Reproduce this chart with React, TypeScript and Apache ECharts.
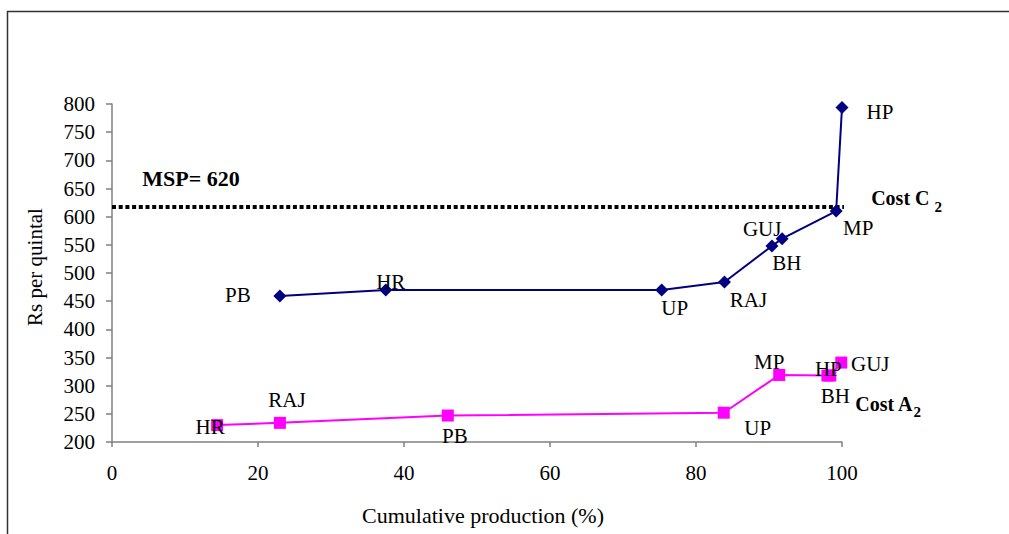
import React, { useEffect, useRef } from "react";
import * as echarts from "echarts";

// ---- Data ----
const c2States = ["PB", "HR", "UP", "RAJ", "BH", "GUJ", "MP", "HP"];
const c2X = [23.0, 37.5, 75.3, 83.9, 90.4, 91.8, 99.2, 100];
const c2Y = [459, 470, 470, 484, 548, 561, 610, 794];

const a2States = ["HR", "RAJ", "PB", "UP", "MP", "BH", "HP", "GUJ"];
const a2X = [14.4, 23.0, 46.0, 83.8, 91.4, 98.0, 98.4, 99.9];
const a2Y = [230, 234, 247, 252, 319, 318, 318, 341];

const mspValue = 617;
const mspX = [0, 102.9];

const xMin = 0;
const xMax = 100;
const xStep = 20;
const yMin = 200;
const yMax = 800;
const yStep = 50;

// ---- Label placement (style, kept apart from the data) ----
const c2LabelOffset: Record<string, number[]> = {
  PB: [-42, -1],
  HR: [5, -8],
  UP: [13, 18],
  RAJ: [24, 18],
  BH: [15, 17],
  GUJ: [-20, -10],
  MP: [22, 17],
  HP: [38, 5],
};
const a2LabelOffset: Record<string, number[]> = {
  HR: [-7, 2],
  RAJ: [7, -23],
  PB: [7, 20],
  UP: [34, 15],
  MP: [-10, -13],
  BH: [8, 20],
  HP: [-2, -7],
  GUJ: [29, 1],
};

const FONT = "'Liberation Serif', 'Times New Roman', serif";

export default function App() {
  const ref = useRef<HTMLDivElement>(null);

  useEffect(() => {
    if (!ref.current) return;
    const chart = echarts.init(ref.current, undefined, { renderer: "svg" });

    const pointLabel = (offset: number[]) => ({
      show: true,
      position: "inside",
      offset,
      color: "#000",
      fontFamily: FONT,
      fontSize: 21,
      formatter: "{b}",
    });

    const c2Data = c2States.map((s, i) => ({
      name: s,
      value: [c2X[i], c2Y[i]],
      label: pointLabel(c2LabelOffset[s]),
    }));
    const a2Data = a2States.map((s, i) => ({
      name: s,
      value: [a2X[i], a2Y[i]],
      label: pointLabel(a2LabelOffset[s]),
    }));

    const costRich = (subPadLeft: number) => ({
      a: {
        fontFamily: FONT,
        fontSize: 20,
        fontWeight: "bold",
        lineHeight: 22,
        verticalAlign: "top",
        color: "#000",
      },
      b: {
        fontFamily: FONT,
        fontSize: 15,
        fontWeight: "bold",
        lineHeight: 15,
        verticalAlign: "top",
        padding: [11, 0, 0, subPadLeft],
        color: "#000",
      },
    });

    const mspData = mspX.map((x, i) => ({
      name: i === 0 ? "MSP" : "Cost C2",
      value: [x, mspValue],
      label:
        i === 0
          ? {
              show: true,
              position: "inside",
              offset: [79, -29],
              formatter: "MSP= 620",
              fontFamily: FONT,
              fontSize: 22,
              fontWeight: "bold",
              color: "#000",
            }
          : {
              show: true,
              position: "inside",
              align: "left",
              offset: [8, -8],
              formatter: "{a|Cost C}{b|2}",
              rich: costRich(5),
            },
    }));

    chart.setOption({
      animation: false,
      backgroundColor: "#fff",
      graphic: [
        {
          type: "rect",
          shape: { x: 7.5, y: 11.5, width: 1100, height: 600 },
          style: { fill: "none", stroke: "#333", lineWidth: 1.5 },
          silent: true,
        },
      ],
      grid: { left: 112, right: 167, top: 104, bottom: 92 },
      xAxis: {
        type: "value",
        min: xMin,
        max: xMax,
        interval: xStep,
        name: "Cumulative production (%)",
        nameLocation: "middle",
        nameGap: 62,
        nameTextStyle: {
          fontFamily: FONT,
          fontSize: 22,
          color: "#000",
          padding: [0, 0, 0, 12],
        },
        splitLine: { show: false },
        axisLine: { show: true, lineStyle: { color: "#808080", width: 1.5 } },
        axisTick: { show: true, length: 5, lineStyle: { color: "#808080", width: 1.5 } },
        axisLabel: { margin: 20, fontFamily: FONT, fontSize: 21, color: "#000" },
      },
      yAxis: {
        type: "value",
        min: yMin,
        max: yMax,
        interval: yStep,
        name: "Rs per quintal",
        nameLocation: "middle",
        nameGap: 67,
        nameTextStyle: {
          fontFamily: FONT,
          fontSize: 21,
          color: "#000",
          padding: [0, 0, 0, 12],
        },
        splitLine: { show: false },
        axisLine: { show: true, lineStyle: { color: "#808080", width: 1.5 } },
        axisTick: { show: true, length: 6, lineStyle: { color: "#808080", width: 1.5 } },
        axisLabel: { margin: 17, fontFamily: FONT, fontSize: 21, color: "#000" },
      },
      series: [
        {
          name: "MSP",
          type: "line",
          data: mspData,
          clip: false,
          symbol: "circle",
          symbolSize: 0,
          showSymbol: true,
          lineStyle: { color: "#000", width: 4, type: [4, 2.7], cap: "butt" },
          itemStyle: { color: "#000" },
          z: 1,
        },
        {
          name: "Cost C2",
          type: "line",
          data: c2Data,
          symbol: "diamond",
          symbolSize: 13,
          lineStyle: { color: "#000080", width: 2 },
          itemStyle: { color: "#000080" },
          z: 3,
        },
        {
          name: "Cost A2",
          type: "line",
          data: a2Data,
          symbol: "rect",
          symbolSize: 12,
          lineStyle: { color: "#ff00ff", width: 2 },
          itemStyle: { color: "#ff00ff" },
          z: 3,
          markPoint: {
            symbol: "circle",
            symbolSize: 0,
            data: [
              {
                name: "Cost A2",
                coord: [a2X[a2X.length - 1], a2Y[a2Y.length - 1]],
                label: {
                  show: true,
                  position: "inside",
                  align: "left",
                  offset: [14, 42],
                  formatter: "{a|Cost A}{b|2}",
                  rich: costRich(0),
                },
              },
            ],
          },
        },
      ],
    });

    return () => chart.dispose();
  }, []);

  return (
    <div
      ref={ref}
      style={{ position: "fixed", left: 0, top: 0, width: 1009, height: 534 }}
    />
  );
}
